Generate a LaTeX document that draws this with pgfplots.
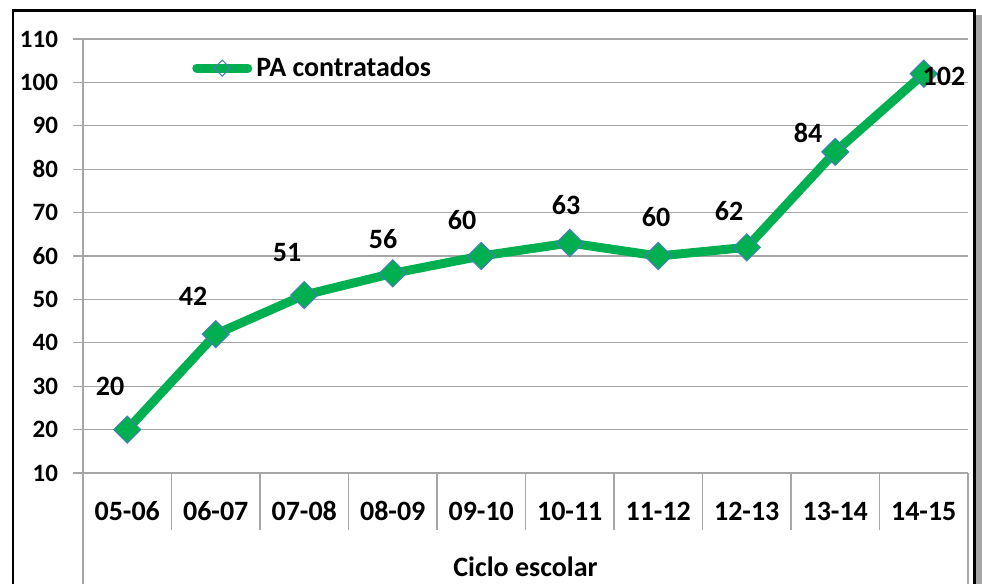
\documentclass[border=0pt]{standalone}
\usepackage{fontspec}
\setmainfont{Carlito}
\usepackage{pgfplots}
\pgfplotsset{compat=1.18}
\definecolor{pagreen}{HTML}{00B050}
\definecolor{mkblue}{HTML}{4A7EBB}
\definecolor{gridgray}{HTML}{A6A6A6}
\begin{document}
\begin{tikzpicture}
\begin{scope}[x=0.5pt,y=-0.5pt]
\useasboundingbox (0,0) rectangle (982,584);
\clip (0,0) rectangle (982,584);
\fill[black!35] (976,15) rectangle (982,600);
\draw[line width=1.25pt] (13,10.5) rectangle (974.5,600);
\draw[gridgray, line width=0.6pt] (83,473) -- (83,600);
\draw[gridgray, line width=0.6pt] (968,473) -- (968,600);
\foreach \k in {1,...,9} {\draw[gridgray, line width=0.6pt] ({83+88.5*\k},473) -- ({83+88.5*\k},530);}
\node[font=\bfseries\fontsize{14pt}{16pt}\selectfont] at (525.5,567) {Ciclo escolar};
\end{scope}
\begin{axis}[at={(41.5pt,-236.5pt)}, anchor=south west, scale only axis,
  width=442.5pt, height=217pt,
  xmin=-0.5, xmax=9.5, ymin=10, ymax=110,
  axis x line=bottom, axis y line=left,
  axis line style={gridgray, line width=0.6pt, -},
  ytick={10,20,...,110}, ymajorgrids,
  grid style={gridgray, line width=0.6pt},
  y tick style={gridgray, line width=0.6pt},
  tick align=outside, major tick length=5pt,
  xtick={0,...,9},
  xticklabels={05-06,06-07,07-08,08-09,09-10,10-11,11-12,12-13,13-14,14-15},
  x tick style={draw=none},
  xticklabel style={font=\bfseries\fontsize{14pt}{16pt}\selectfont, anchor=center, yshift=-14pt},
  yticklabel style={font=\bfseries\fontsize{12.5pt}{14pt}\selectfont, xshift=-4pt},
  /pgf/number format/assume math mode=true,
  legend style={draw=none, fill=none, at={(0.123,0.933)}, anchor=west, inner sep=0pt,
    font=\bfseries\fontsize{14pt}{16pt}\selectfont},
  legend image code/.code={
    \draw[line width=4.5pt, line cap=round, color=pagreen] (0pt,0pt) -- (25.5pt,0pt);
    \draw[draw=mkblue, line width=0.5pt] (12.75pt,0pt) +(-4pt,0pt) -- +(0pt,4pt) -- +(4pt,0pt) -- +(0pt,-4pt) -- cycle;
  },
  clip=false,
]
\addplot[pagreen, line width=4.5pt, mark=square*, mark size=4.8pt,
  mark options={rotate=45, fill=pagreen, draw=mkblue, line width=0.5pt}]
  coordinates {(0,20)(1,42)(2,51)(3,56)(4,60)(5,63)(6,60)(7,62)(8,84)(9,102)};
\addlegendentry{PA contratados}
\end{axis}
\begin{scope}[x=0.5pt,y=-0.5pt, every node/.style={font=\bfseries\fontsize{14pt}{16pt}\selectfont}]
\node at (110,386) {20};
\node at (193,296) {42};
\node at (287,253) {51};
\node at (383,239) {56};
\node at (462,220) {60};
\node at (566,205) {63};
\node at (656,217) {60};
\node at (729,211) {62};
\node at (808,133) {84};
\node at (944,76) {102};
\end{scope}
\end{tikzpicture}
\end{document}
